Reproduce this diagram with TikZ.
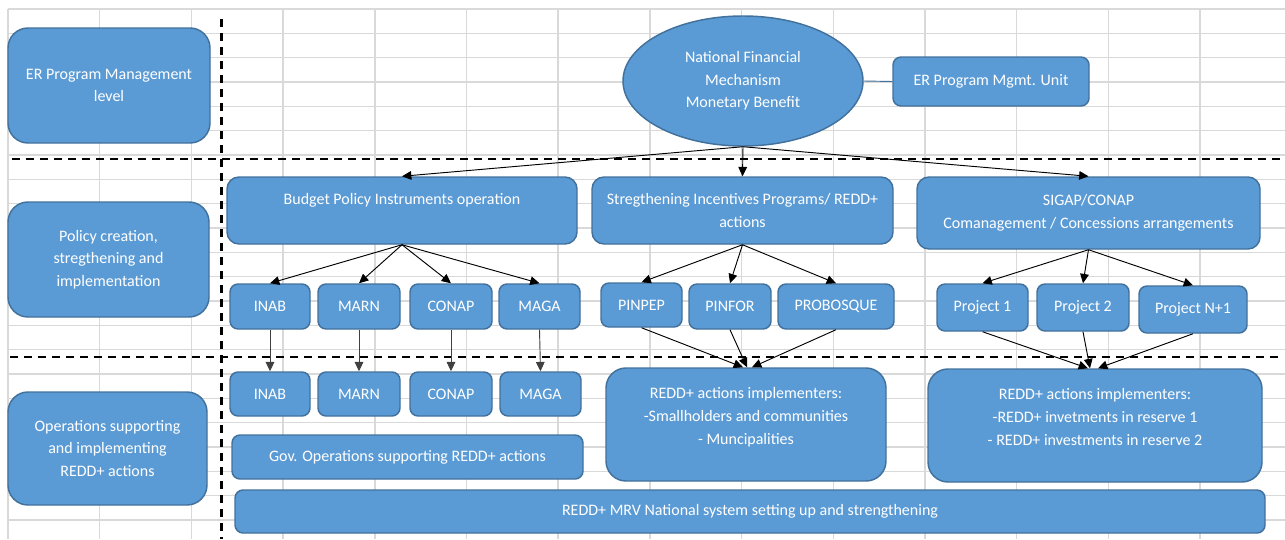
\documentclass[tikz,border=0pt]{standalone}
\usepackage{fontspec}
\setmainfont{Carlito}
\usetikzlibrary{shapes.geometric,arrows.meta}
\definecolor{boxfill}{HTML}{5B9BD5}
\definecolor{boxline}{HTML}{41719C}
\definecolor{gridgray}{HTML}{D9D9D9}

\begin{document}
\begin{tikzpicture}[x=0.75pt,y=-0.75pt,
        box/.style={draw=boxline,fill=boxfill,line width=1.1pt,text=white,align=center,inner sep=0pt,font=\fontsize{12}{17}\selectfont},
        levelbox/.style={box,rounded corners=15pt},
        widebox/.style={box,rounded corners=9pt},
        smallbox/.style={box,rounded corners=6pt},
        arr/.style={-{Triangle[length=7pt,width=6.5pt]},line width=0.7pt},
        divider/.style={line width=2.2pt,dash pattern=on 6pt off 4.5pt}]

        \useasboundingbox (0,0) rectangle (1285,539);

        % Spreadsheet grid
        \foreach \r in {0,...,21}
            \draw[gridgray,line width=1.1pt] (8,{9+\r*24.333}) -- (1285,{9+\r*24.333});
        \foreach \c in {0,...,13}
            \draw[gridgray,line width=1.1pt] ({8+\c*91.7},9) -- ({8+\c*91.7},539);

        % Level separators
        \draw[divider] (221.5,19) -- (221.5,539);
        \draw[divider] (12,159) -- (1285,159);
        \draw[divider] (10,357) -- (1280,357);

        % Levels (left column)
        \node[levelbox,minimum width=151.5pt,minimum height=86.25pt] (lvlA) at (109,85.5) {ER Program Management\\level};
        \node[levelbox,minimum width=150.75pt,minimum height=86.25pt] (lvlB) at (108.5,259.5) {Policy creation,\\stregthening and\\implementation};
        \node[levelbox,minimum width=149.25pt,minimum height=84.75pt] (lvlC) at (107.5,448.5) {Operations supporting\\and implementing\\REDD+ actions};

        % Management level
        \node[box,ellipse,minimum width=180pt,minimum height=97.5pt] (nfm) at (743,81) {National Financial\\Mechanism\\Monetary Benefit};
        \node[smallbox,minimum width=147pt,minimum height=36.75pt] (pmu) at (991,81.5) {ER Program Mgmt. Unit};

        % Policy level
        \node[widebox,minimum width=262.5pt,minimum height=50.25pt] (bpi) at (402,210.5) {Budget Policy Instruments operation\\\mbox{}};
        \node[widebox,minimum width=225.75pt,minimum height=50.25pt] (sip) at (742.5,210.5) {Stregthening Incentives Programs/ REDD+\\actions};
        \node[widebox,minimum width=257.25pt,minimum height=54pt] (sig) at (1088.5,213) {SIGAP/CONAP\\Comanagement / Concessions arrangements};

        \node[smallbox,minimum width=60pt,minimum height=33.75pt] (inabA) at (270,306.5) {INAB};
        \node[smallbox,minimum width=61.5pt,minimum height=33.75pt] (marnA) at (359,306.5) {MARN};
        \node[smallbox,minimum width=61.5pt,minimum height=33.75pt] (conapA) at (451,306.5) {CONAP};
        \node[smallbox,minimum width=60.75pt,minimum height=33.75pt] (magaA) at (539.5,306.5) {MAGA};
        \node[smallbox,minimum width=60.75pt,minimum height=33pt] (pinpep) at (641.5,305) {PINPEP};
        \node[smallbox,minimum width=61.5pt,minimum height=33.75pt] (pinfor) at (730,306.5) {PINFOR};
        \node[smallbox,minimum width=87pt,minimum height=33.75pt] (probosque) at (836,306.5) {PROBOSQUE};
        \node[smallbox,minimum width=68.25pt,minimum height=35.25pt] (projA) at (982.5,307.5) {Project 1};
        \node[smallbox,minimum width=69pt,minimum height=35.25pt] (projB) at (1083,307.5) {Project 2};
        \node[smallbox,minimum width=81pt,minimum height=35.25pt] (projN) at (1193,309.5) {Project N+1};

        % Operations level
        \node[smallbox,minimum width=60pt,minimum height=33pt] (inabB) at (270,394) {INAB};
        \node[smallbox,minimum width=61.5pt,minimum height=33pt] (marnB) at (359,394) {MARN};
        \node[smallbox,minimum width=61.5pt,minimum height=33pt] (conapB) at (451,394) {CONAP};
        \node[smallbox,minimum width=60.75pt,minimum height=33pt] (magaB) at (540.5,394) {MAGA};
        \node[smallbox,minimum width=263.25pt,minimum height=33pt] (gov) at (407.5,457) {Gov. Operations supporting REDD+ actions};
        \node[levelbox,minimum width=210pt,minimum height=84.75pt] (impA) at (746,424.5) {REDD+ actions implementers:\\-Smallholders and communities\\- Muncipalities\\[-4pt]\mbox{}};
        \node[levelbox,minimum width=250.5pt,minimum height=84.75pt] (impB) at (1095,425.5) {REDD+ actions implementers:\\-REDD+ invetments in reserve 1\\- REDD+ investments in reserve 2\\[-4pt]\mbox{}};
        \node[smallbox,minimum width=772.5pt,minimum height=32.25pt] (mrv) at (750,511.5) {REDD+ MRV National system setting up and strengthening};

        % Flows from the financial mechanism
        \draw[boxline,line width=0.7pt] (nfm.east) -- (pmu.west);
        \draw[arr] (nfm.south) -- (bpi.north);
        \draw[arr] (nfm.south) -- (sip.north);
        \draw[arr] (nfm.south) -- (sig.north);

        % Policy instruments to institutions and programs
        \foreach \n in {inabA,marnA,conapA,magaA}
            \draw[arr] (bpi.south) -- (\n.north);
        \foreach \n in {pinpep,pinfor,probosque}
            \draw[arr] (sip.south) -- (\n.north);
        \foreach \n in {projA,projB,projN}
            \draw[arr] (sig.south) -- (\n.north);

        % Down to operations
        \draw[arr,black!75] (inabA.south) -- (inabB.north);
        \draw[arr,black!75] (marnA.south) -- (marnB.north);
        \draw[arr,black!75] (conapA.south) -- (conapB.north);
        \draw[arr,black!75] (magaA.south) -- (magaB.north);

        \draw[arr] (pinpep.south) -- ([xshift=-2.25pt]impA.north);
        \draw[arr] (pinfor.south) -- ([xshift=0.75pt]impA.north);
        \draw[arr] (probosque.south) -- ([xshift=4.5pt]impA.north);
        \draw[arr] (projA.south) -- ([xshift=-5.25pt]impB.north);
        \draw[arr] (projB.south) -- ([xshift=-3.75pt]impB.north);
        \draw[arr] (projN.south) -- ([xshift=2.25pt]impB.north);

    \end{tikzpicture}
\end{document}
